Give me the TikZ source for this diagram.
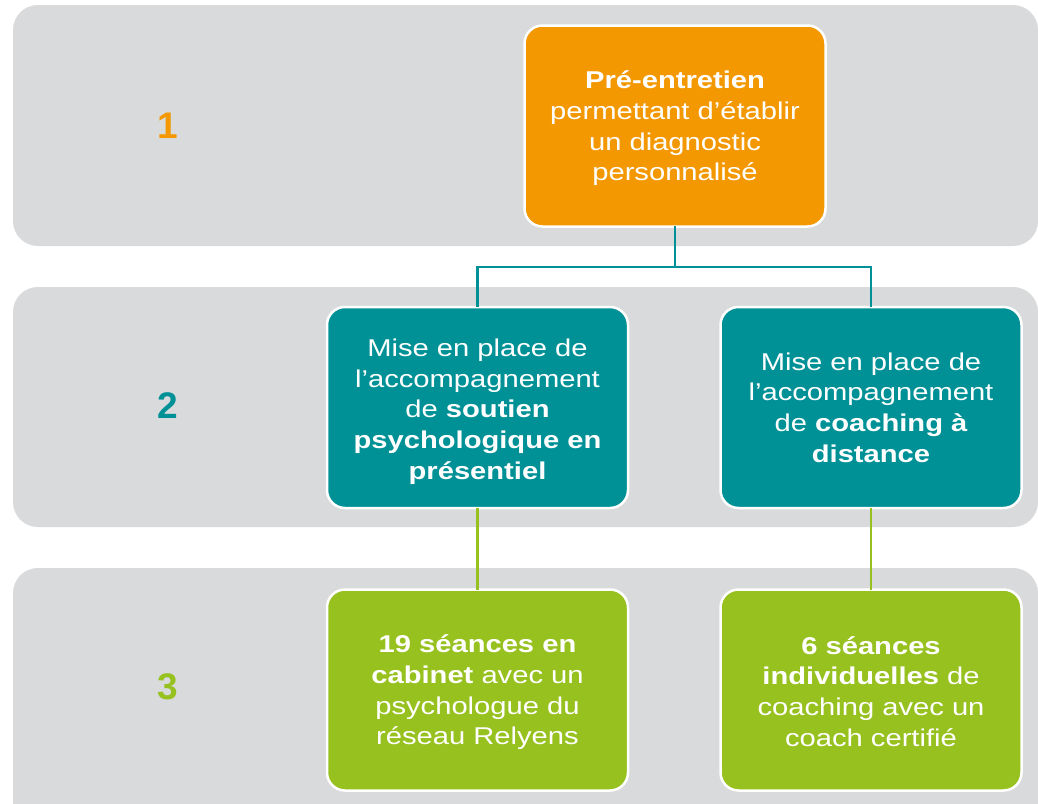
\documentclass[tikz,border=0pt]{standalone}
\usepackage{fontspec}
\setmainfont[FakeStretch=1.2]{Liberation Sans}
\newfontfamily\numfont{Liberation Sans}
\definecolor{bandgray}{HTML}{D9DADB}
\definecolor{orangeC}{HTML}{F39800}
\definecolor{tealC}{HTML}{009197}
\definecolor{greenC}{HTML}{97C11F}
\tikzset{
  band/.style={fill=bandgray, rounded corners=25pt},
  stepbox/.style={draw=white, line width=2.5pt, rounded corners=18pt,
    minimum width=301pt, minimum height=201pt, inner sep=0pt,
    align=center, text=white, font=\fontsize{24.3}{30.7}\selectfont},
  boxtext/.style={align=center, text=white, inner sep=0pt, font=\fontsize{24.3}{30.7}\selectfont},
  num/.style={font=\numfont\bfseries\fontsize{37}{40}\selectfont},
  tealline/.style={draw=tealC, line width=2.5pt},
  greenline/.style={draw=greenC, line width=2.5pt},
}
\begin{document}
\begin{tikzpicture}[x=1pt,y=-1pt]
\useasboundingbox (0,0) rectangle (1038,803);
\clip (0,0) rectangle (1038,803);
\fill[white] (0,0) rectangle (1038,803);
% bands
\fill[band] (13,5) rectangle (1038,246);
\fill[band] (13,287) rectangle (1038,527);
\fill[band] (13,568) rectangle (1038,830);
% numbers
\node[num, text=orangeC] (n1) at (168,126) {1};
\node[num, text=tealC] (n2) at (168,406) {2};
\node[num, text=greenC] (n3) at (168,687) {3};
% boxes
\node[stepbox, fill=orangeC] (o) at (675,126) {};
\node[stepbox, fill=tealC] (tl) at (477.5,407.5) {};
\node[stepbox, fill=tealC] (tr) at (871,407.5) {};
\node[stepbox, fill=greenC] (gl) at (477.5,690) {};
\node[stepbox, fill=greenC] (gr) at (871,690) {};
% texts
\node[boxtext] (ot) at ([yshift=-2.5pt]o.center) {\textbf{Pré-entretien}\\permettant d’établir\\un diagnostic\\personnalisé};
\node[boxtext] (tlt) at ([yshift=-4pt]tl.center) {Mise en place de\\l’accompagnement\\de \textbf{soutien}\\\textbf{psychologique en}\\\textbf{présentiel}};
\node[boxtext] (trt) at ([yshift=0pt]tr.center) {Mise en place de\\l’accompagnement\\de \textbf{coaching à}\\\textbf{distance}};
\node[boxtext] (glt) at ([yshift=-2.5pt]gl.center) {\textbf{19 séances en}\\\textbf{cabinet} avec un\\psychologue du\\réseau Relyens};
\node[boxtext] (grt) at ([yshift=-1.5pt]gr.center) {\textbf{6 séances}\\\textbf{individuelles} de\\coaching avec un\\coach certifié};
% connectors
\coordinate (j) at (675,267);
\draw[tealline] ([yshift=1.5pt]o.south) -- (j);
\draw[tealline] (j) -| ([yshift=-1.5pt]tl.north);
\draw[tealline] (j) -| ([yshift=-1.5pt]tr.north);
\draw[greenline] ([yshift=1.5pt]tl.south) -- ([yshift=-1.5pt]gl.north);
\draw[greenline] ([yshift=1.5pt]tr.south) -- ([yshift=-1.5pt]gr.north);
\end{tikzpicture}
\end{document}
